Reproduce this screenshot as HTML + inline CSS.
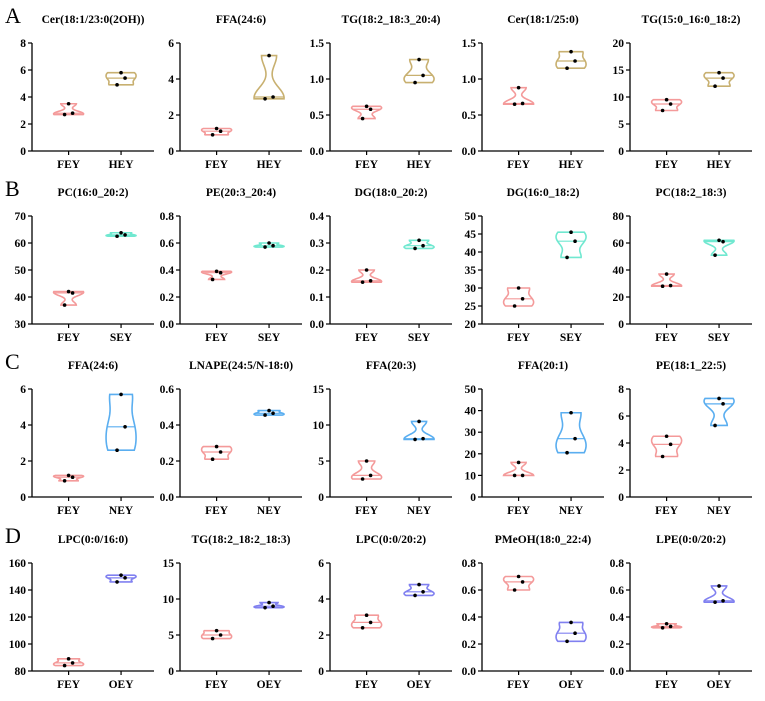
<!DOCTYPE html>
<html><head><meta charset="utf-8">
<style>
body{margin:0;background:#fff;}
svg text{font-family:"Liberation Serif",serif;font-weight:bold;}
</style></head>
<body>
<svg id="c" width="765" height="696" viewBox="0 0 765 696" xmlns="http://www.w3.org/2000/svg"></svg>
<script>
const titles = [
 "Cer(18:1/23:0(2OH))","FFA(24:6)","TG(18:2_18:3_20:4)","Cer(18:1/25:0)","TG(15:0_16:0_18:2)",
 "PC(16:0_20:2)","PE(20:3_20:4)","DG(18:0_20:2)","DG(16:0_18:2)","PC(18:2_18:3)",
 "FFA(24:6)","LNAPE(24:5/N-18:0)","FFA(20:3)","FFA(20:1)","PE(18:1_22:5)",
 "LPC(0:0/16:0)","TG(18:2_18:2_18:3)","LPC(0:0/20:2)","PMeOH(18:0_22:4)","LPE(0:0/20:2)"];
const groupB = ["HEY","SEY","NEY","OEY"];
const yMin = [0,0,0,0,0, 30,0,0,20,0, 0,0,0,0,0, 80,0,0,0,0];
const yMax = [8,6,1.5,1.5,20, 70,0.8,0.4,50,80, 6,0.6,15,50,8, 160,15,6,0.8,0.8];
const yStep = [2,2,0.5,0.5,5, 10,0.2,0.1,5,20, 2,0.2,5,10,2, 20,5,2,0.2,0.2];
const feyVals = [
 [2.7,2.8,3.5],[0.9,1.1,1.25],[0.45,0.58,0.62],[0.65,0.66,0.88],[7.5,8.7,9.5],
 [37,41.5,42],[0.33,0.38,0.39],[0.155,0.16,0.2],[25,27,30],[28,28.5,37],
 [0.9,1.1,1.2],[0.21,0.25,0.28],[2.5,3,5],[10,10,16],[3,3.9,4.5],
 [84,86,89],[4.5,5,5.6],[2.4,2.7,3.1],[0.6,0.66,0.7],[0.32,0.33,0.35]];
const otherVals = [
 [4.9,5.4,5.8],[2.9,3.0,5.3],[0.95,1.05,1.27],[1.15,1.25,1.38],[12,13.5,14.5],
 [62.5,63,63.8],[0.57,0.58,0.6],[0.28,0.29,0.31],[38.5,43,45.5],[51,61,62],
 [2.6,3.9,5.7],[0.455,0.465,0.48],[8,8.1,10.5],[20.5,27,39],[5.3,6.9,7.3],
 [146,149,151],[8.8,9,9.5],[4.2,4.4,4.8],[0.22,0.28,0.36],[0.51,0.52,0.63]];
const rowLetters = ["A","B","C","D"];

const NS="http://www.w3.org/2000/svg";
const svg=document.getElementById('c');
function mk(t,a,p){const e=document.createElementNS(NS,t);for(const k in a)e.setAttribute(k,a[k]);(p||svg).appendChild(e);return e;}
const colX=[32,180,330,482,630], W=122, rowTop=[43,216,389,563], H=108;
const otherColors=["#C8B070","#70E8D0","#5AAEF0","#8080F0"];
const feyColor="#F49A9A";

function violin(g,vals,cx,ys,color,name){
  const s=[...vals].sort((a,b)=>a-b), lo=s[0], hi=s[s.length-1];
  const bw=(hi-lo)*0.25||1e-6, N=30;
  const dens=v=>s.reduce((a,x)=>a+Math.exp(-0.5*((v-x)/bw)**2),0);
  let mx=0; const pts=[];
  for(let i=0;i<=N;i++){const v=lo+(hi-lo)*i/N;const d=dens(v);pts.push([v,d]);mx=Math.max(mx,d);}
  const hw=15;
  let dR="",dL="";
  pts.forEach((p,i)=>{const w=hw*p[1]/mx;dR+=(i?"L":"M")+(cx+w)+","+ys(p[0]);});
  for(let i=pts.length-1;i>=0;i--){const w=hw*pts[i][1]/mx;dL+="L"+(cx-w)+","+ys(pts[i][0]);}
  const path=mk('path',{d:dR+dL+"Z",fill:"none",stroke:color,"stroke-width":1.6},g);
  
  
  const med=s[1], wm=hw*dens(med)/mx;
  const ml=mk('line',{x1:cx-wm,x2:cx+wm,y1:ys(med),y2:ys(med),stroke:color,"stroke-width":1.2},g);
  
  
  const off=[-4,4,0];
  vals.forEach((v,i)=>{
    const c=mk('circle',{cx:cx+off[i],cy:ys(v),r:1.8,fill:"#000"},g);
    
    
  });
}

rowLetters.forEach((L,r)=>{
  const t=mk('text',{x:5,y:rowTop[r]-20,"font-size":22});
  t.style.fontWeight="normal";
  t.textContent=L;
  
  
});

titles.forEach((title,i)=>{
  const r=Math.floor(i/5), c=i%5;
  const x0=colX[c], y0=rowTop[r], yb=y0+H;
  const g=mk('g',{});
  
  
  const ys=v=>yb-(v-yMin[i])/(yMax[i]-yMin[i])*H;
  const tt=mk('text',{x:x0+W/2,y:y0-20,"font-size":11.5,"text-anchor":"middle"},g);
  tt.textContent=title;
  
  
  mk('line',{x1:x0,x2:x0,y1:y0,y2:yb,stroke:"#000","stroke-width":1.3},g);
  mk('line',{x1:x0,x2:x0+W,y1:yb,y2:yb,stroke:"#000","stroke-width":1.3},g);
  const dec=yStep[i]<1?1:0;
  for(let v=yMin[i];v<=yMax[i]+1e-9;v+=yStep[i]){
    mk('line',{x1:x0-4,x2:x0,y1:ys(v),y2:ys(v),stroke:"#000","stroke-width":1.2},g);
    const tl=mk('text',{x:x0-6,y:ys(v)+4,"font-size":11.5,"text-anchor":"end"},g);
    tl.textContent=(v===0&&yMin[i]===0&&dec===0)?"0":v.toFixed(dec);
    
    
  }
  const cx1=x0+W*0.3, cx2=x0+W*0.73;
  [[cx1,"FEY"],[cx2,groupB[r]]].forEach(([cx,lab])=>{
    mk('line',{x1:cx,x2:cx,y1:yb,y2:yb+4,stroke:"#000","stroke-width":1.2},g);
    const xl=mk('text',{x:cx,y:yb+17,"font-size":11.5,"text-anchor":"middle"},g);
    xl.textContent=lab;
    
    
  });
  violin(g,feyVals[i],cx1,ys,feyColor,'fey');
  violin(g,otherVals[i],cx2,ys,otherColors[r],groupB[r].toLowerCase());
});
</script>
</body></html>
